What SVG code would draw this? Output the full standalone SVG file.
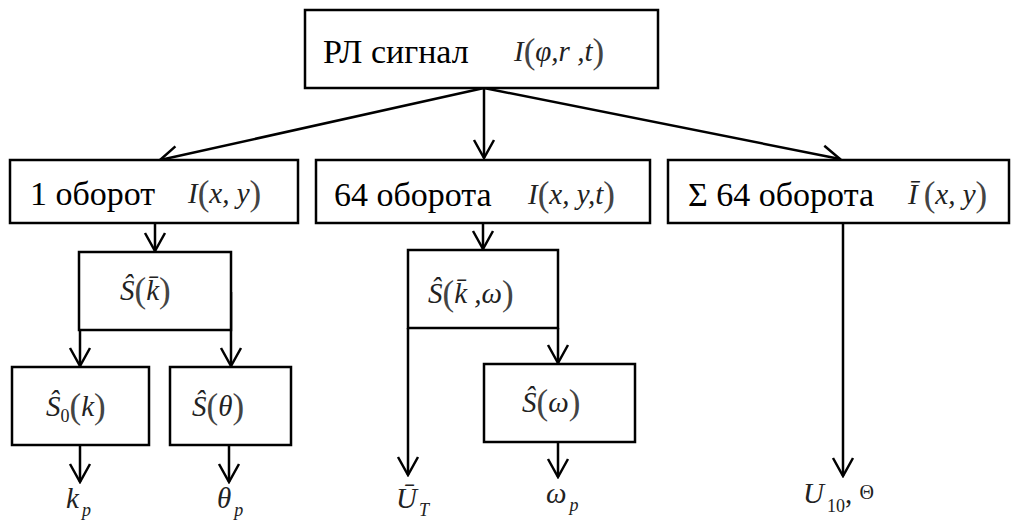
<svg xmlns="http://www.w3.org/2000/svg" width="1014" height="525" viewBox="0 0 1014 525">
<style>
.box{fill:#fff;stroke:#000;stroke-width:2.5}
.ln{fill:none;stroke:#000;stroke-width:2.5}
.t{font-size:34px;fill:#000}
.m{font-family:'Liberation Serif','Times New Roman',serif;font-style:italic;font-size:29px;fill:#222}
.p{font-style:normal;font-size:35px;fill:#444}
.s{font-size:18px}
</style>
<defs>
<marker id="ah" viewBox="-20 -12 22 24" markerWidth="22" markerHeight="24" refX="0" refY="0" orient="auto" markerUnits="userSpaceOnUse">
<path d="M-18,-10 L0,0 L-18,10" fill="none" stroke="#000" stroke-width="2.5"/>
</marker>
</defs>
<g id="connectors">
<line class="ln" x1="484" y1="88" x2="160" y2="160" marker-end="url(#ah)"/>
<line class="ln" x1="484" y1="88" x2="484" y2="158" marker-end="url(#ah)"/>
<line class="ln" x1="484" y1="88" x2="840" y2="159" marker-end="url(#ah)"/>
<line class="ln" x1="155" y1="223" x2="155" y2="251" marker-end="url(#ah)"/>
<line class="ln" x1="80" y1="330" x2="80" y2="366" marker-end="url(#ah)"/>
<line class="ln" x1="231" y1="292" x2="231" y2="366" marker-end="url(#ah)"/>
<line class="ln" x1="80" y1="445" x2="80" y2="482" marker-end="url(#ah)"/>
<line class="ln" x1="229" y1="445" x2="229" y2="482" marker-end="url(#ah)"/>
<line class="ln" x1="483" y1="223" x2="483" y2="249" marker-end="url(#ah)"/>
<line class="ln" x1="408" y1="328" x2="408" y2="475" marker-end="url(#ah)"/>
<line class="ln" x1="558" y1="328" x2="558" y2="363" marker-end="url(#ah)"/>
<line class="ln" x1="558" y1="442" x2="558" y2="477" marker-end="url(#ah)"/>
<line class="ln" x1="843" y1="223" x2="843" y2="476" marker-end="url(#ah)"/>
</g>
<g id="n-top">
<rect class="box" x="305" y="10" width="353" height="78"/>
<text class="t" font-family="Liberation Serif, serif" x="323" y="63">РЛ сигнал</text>
<text class="m" x="514" y="61">I<tspan class="p" dy="2">(</tspan><tspan dy="-2">φ,r ,t</tspan><tspan class="p" dy="2">)</tspan></text>
</g>
<g id="n-1turn">
<rect class="box" x="10" y="160" width="288" height="63"/>
<text class="t" font-family="Liberation Serif, serif" x="30" y="205">1 оборот</text>
<text class="m" x="188" y="203">I<tspan class="p" dy="2">(</tspan><tspan dy="-2">x, y</tspan><tspan class="p" dy="2">)</tspan></text>
</g>
<g id="n-64turns">
<rect class="box" x="316" y="160" width="334" height="63"/>
<text class="t" font-family="Liberation Serif, serif" x="334" y="206">64 оборота</text>
<text class="m" x="528" y="204">I<tspan class="p" dy="2">(</tspan><tspan dy="-2">x, y,t</tspan><tspan class="p" dy="2">)</tspan></text>
</g>
<g id="n-sum">
<rect class="box" x="668" y="160" width="341" height="63"/>
<text class="t" font-family="Liberation Serif, serif" x="688" y="206">Σ 64 оборота</text>
<text class="m" x="908" y="204">Ī<tspan class="p" dx="6" dy="2">(</tspan><tspan dy="-2">x, y</tspan><tspan class="p" dy="2">)</tspan></text>
</g>
<g id="n-Sk">
<rect class="box" x="79" y="252" width="152" height="78"/>
<text class="m" x="120" y="300">Ŝ<tspan class="p" dy="2">(</tspan><tspan dy="-2">k̄</tspan><tspan class="p" dy="2">)</tspan></text>
</g>
<g id="n-S0k">
<rect class="box" x="12" y="367" width="137" height="78"/>
<text class="m" x="46" y="416">Ŝ<tspan class="s" font-style="normal" dy="6">0</tspan><tspan class="p" dy="-4">(</tspan><tspan dy="-2">k</tspan><tspan class="p" dy="2">)</tspan></text>
</g>
<g id="n-Stheta">
<rect class="box" x="170" y="367" width="121" height="78"/>
<text class="m" x="192" y="416">Ŝ<tspan class="p" dy="2">(</tspan><tspan dy="-2">θ</tspan><tspan class="p" dy="2">)</tspan></text>
</g>
<g id="n-Skw">
<rect class="box" x="408" y="250" width="150" height="78"/>
<text class="m" x="428" y="303">Ŝ<tspan class="p" dy="2">(</tspan><tspan dy="-2">k̄ ,ω</tspan><tspan class="p" dy="2">)</tspan></text>
</g>
<g id="n-Sw">
<rect class="box" x="484" y="364" width="151" height="78"/>
<text class="m" x="522" y="412">Ŝ<tspan class="p" dy="2">(</tspan><tspan dy="-2">ω</tspan><tspan class="p" dy="2">)</tspan></text>
</g>
<g id="outputs">
<text class="m" x="66" y="508">k<tspan class="s" dx="3" dy="8">p</tspan></text>
<text class="m" x="217" y="508">θ<tspan class="s" dx="3" dy="8">p</tspan></text>
<text class="m" x="396" y="508">Ū<tspan class="s" dx="2" dy="8">T</tspan></text>
<text class="m" x="546" y="503">ω<tspan class="s" dx="3" dy="8">p</tspan></text>
<text class="m" x="803" y="503">U<tspan class="s" font-style="normal" dx="3" dy="9">10</tspan><tspan font-style="normal" dy="-9">, </tspan><tspan font-style="normal" font-size="20px" dy="-4">Θ</tspan></text>
</g>
</svg>
